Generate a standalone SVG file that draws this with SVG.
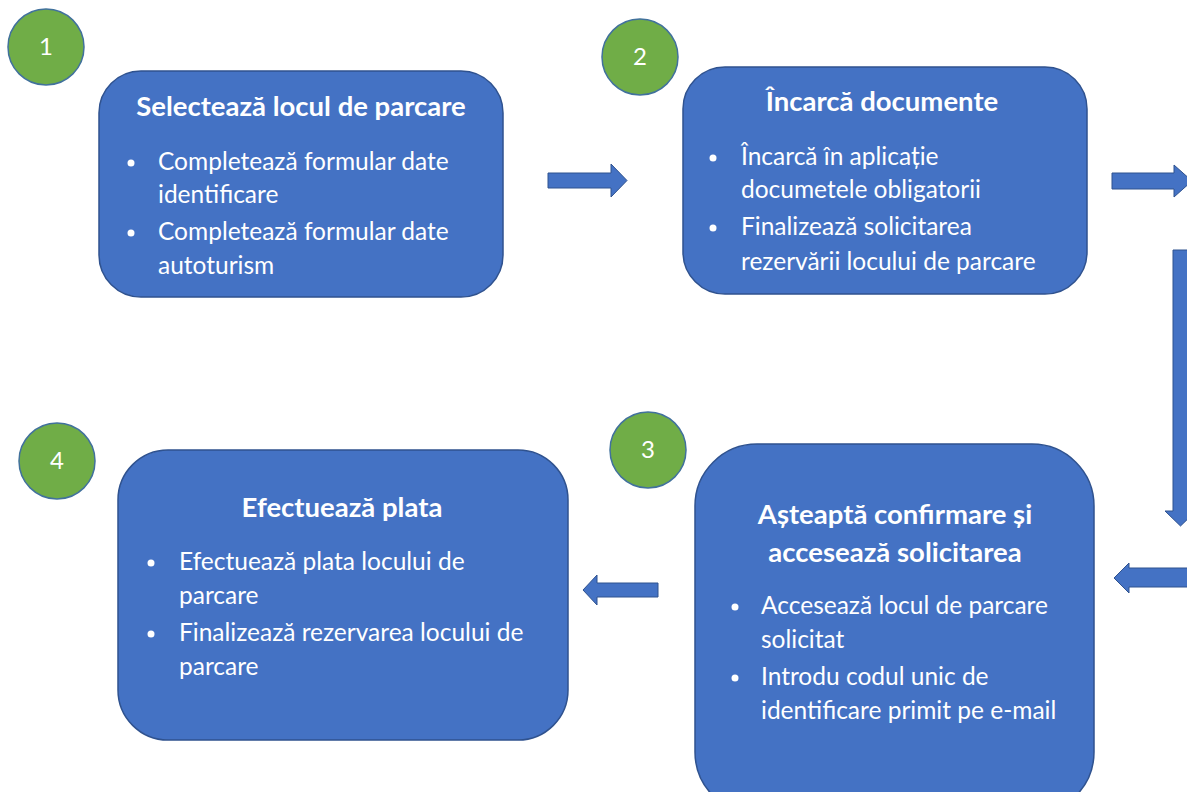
<svg xmlns="http://www.w3.org/2000/svg" width="1187" height="792" viewBox="0 0 1187 792">
<style>
.box{fill:#4472C4;stroke:#2F528F;stroke-width:1.5}
.num{fill:#70AD47;stroke:#41719C;stroke-width:1.5}
.arr{fill:#4472C4;stroke:#2F528F;stroke-width:1}
.t{font-family:Lato,"Open Sans",sans-serif;fill:#fff;font-size:27.5px;font-weight:bold;text-anchor:middle}
.b{font-family:Lato,"Open Sans",sans-serif;fill:#fff;font-size:24.5px}
.n{font-family:Lato,"Open Sans",sans-serif;fill:#fff;font-size:24px;text-anchor:middle}
</style>
<rect width="1187" height="792" fill="#fff"/>
<g id="connectors">
<polygon class="arr" points="548,173 611,173 611,164 627,180.5 611,197 611,188 548,188"/>
<polygon class="arr" points="1112,173 1174,173 1174,165 1192,181 1174,197 1174,189 1112,189"/>
<polygon class="arr" points="1173,250 1188,250 1188,511 1196,511 1180.5,526 1165,511 1173,511"/>
<polygon class="arr" points="1190,568 1129,568 1129,563 1114,578 1129,593 1129,587 1190,587"/>
<polygon class="arr" points="658,583 597,583 597,575 583,590 597,605 597,597 658,597"/>
</g>
<g id="node1">
<rect class="box" x="99" y="71" width="404" height="226" rx="42"/>
<text class="t" x="301" y="116">Selectează locul de parcare</text>
<circle cx="131" cy="163" r="3.5" fill="#fff"/>
<text class="b" x="158" y="170">Completează formular date</text>
<text class="b" x="158" y="203">identificare</text>
<circle cx="131" cy="233" r="3.5" fill="#fff"/>
<text class="b" x="158" y="240">Completează formular date</text>
<text class="b" x="158" y="274">autoturism</text>
</g>
<g id="node2">
<rect class="box" x="683" y="67" width="404" height="227" rx="42"/>
<text class="t" x="882" y="111">Încarcă documente</text>
<circle cx="713" cy="158" r="3.5" fill="#fff"/>
<text class="b" x="741" y="165">Încarcă în aplicație</text>
<text class="b" x="741" y="198">documetele obligatorii</text>
<circle cx="713" cy="228" r="3.5" fill="#fff"/>
<text class="b" x="741" y="235">Finalizează solicitarea</text>
<text class="b" x="741" y="270">rezervării locului de parcare</text>
</g>
<g id="node3">
<rect class="box" x="695" y="444" width="399" height="370" rx="62"/>
<text class="t" x="895" y="524">Așteaptă confirmare și</text>
<text class="t" x="895" y="562">accesează solicitarea</text>
<circle cx="735" cy="607" r="3.5" fill="#fff"/>
<text class="b" x="761" y="614">Accesează locul de parcare</text>
<text class="b" x="761" y="648">solicitat</text>
<circle cx="735" cy="678" r="3.5" fill="#fff"/>
<text class="b" x="761" y="685">Introdu codul unic de</text>
<text class="b" x="761" y="719">identificare primit pe e-mail</text>
</g>
<g id="node4">
<rect class="box" x="118" y="450" width="450" height="290" rx="50"/>
<text class="t" x="342" y="517">Efectuează plata</text>
<circle cx="151" cy="563" r="3.5" fill="#fff"/>
<text class="b" x="179" y="570">Efectuează plata locului de</text>
<text class="b" x="179" y="604">parcare</text>
<circle cx="151" cy="634" r="3.5" fill="#fff"/>
<text class="b" x="179" y="641">Finalizează rezervarea locului de</text>
<text class="b" x="179" y="675">parcare</text>
</g>
<g id="step1"><circle class="num" cx="46" cy="47" r="38"/><text class="n" x="46" y="55">1</text></g>
<g id="step2"><circle class="num" cx="640" cy="57" r="38"/><text class="n" x="640" y="65">2</text></g>
<g id="step3"><circle class="num" cx="648" cy="450" r="38"/><text class="n" x="648" y="458">3</text></g>
<g id="step4"><circle class="num" cx="57" cy="461" r="38"/><text class="n" x="57" y="469">4</text></g>
</svg>
